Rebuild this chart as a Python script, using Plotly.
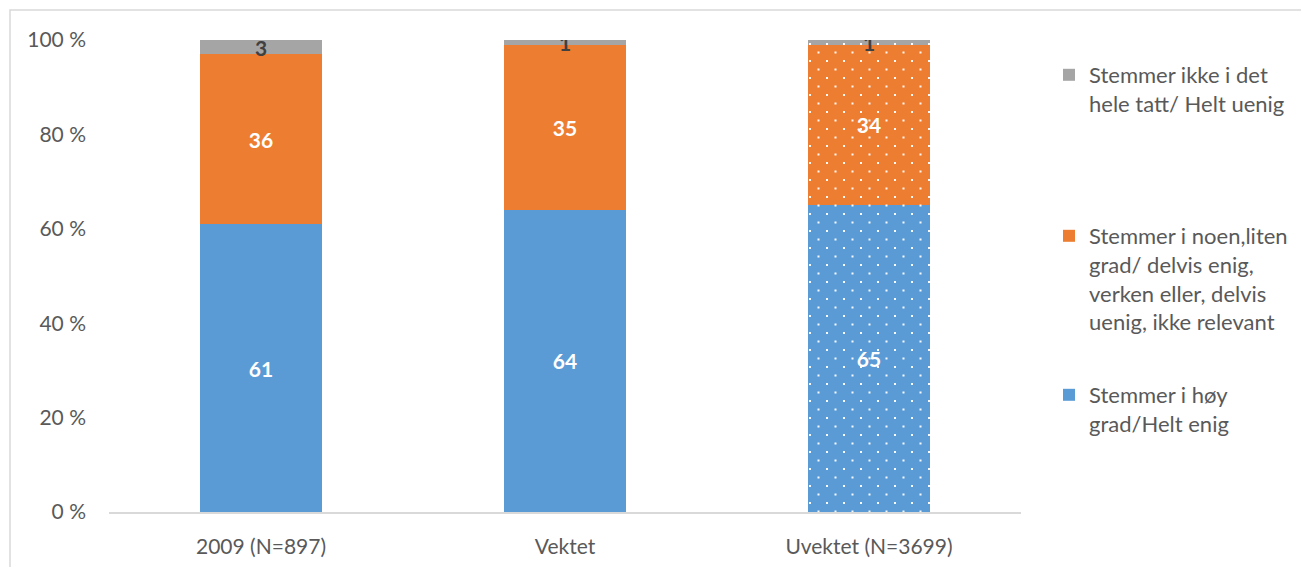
import plotly.graph_objects as go

categories = ["2009 (N=897)", "Vektet", "Uvektet (N=3699)"]
hoy = [61, 64, 65]
noen = [36, 35, 34]
ikke = [3, 1, 1]
tick_vals = [0, 20, 40, 60, 80, 100]
tick_text = ["0 %", "20 %", "40 %", "60 %", "80 %", "100 %"]

names = [
    "Stemmer i høy<br>grad/Helt enig",
    "Stemmer i noen,liten<br>grad/ delvis enig,<br>verken eller, delvis<br>uenig, ikke relevant",
    "Stemmer ikke i det<br>hele tatt/ Helt uenig",
]
colors = ["#5B9BD5", "#ED7D31", "#A5A5A5"]
text_colors = ["white", "white", "#404040"]
series = [hoy, noen, ikke]
legend_ids = ["legend3", "legend2", "legend"]

FONT = "Lato"
OFF = 8  # page body margin
W, H = 1309 - OFF, 567 - OFF
# plot area in page pixels -> figure pixels
L, R, T, B = 109 - OFF, 1021 - OFF, 40 - OFF, 512 - OFF

DOTS = "M3,3h2v2h-2z M11.5,11.5h2v2h-2z"

fig = go.Figure()
for vals, name, col, tcol, lg in zip(series, names, colors, text_colors, legend_ids):
    common = dict(
        textposition="inside",
        insidetextanchor="middle",
        textangle=0,
        constraintext="none",
        textfont=dict(family=FONT, size=21, color=tcol, weight="bold"),
        legend=lg,
        hoverinfo="skip",
    )
    fig.add_trace(go.Bar(
        x=categories[:2], y=vals[:2], name=name,
        marker=dict(color=col, line=dict(width=0)),
        text=[str(v) for v in vals[:2]],
        legendgroup=name,
        **common,
    ))
    fig.add_trace(go.Bar(
        x=categories[2:], y=vals[2:], name=name, showlegend=False,
        marker=dict(
            color=col, line=dict(width=0),
            pattern=dict(path=DOTS, size=17, fgcolor="white", bgcolor=col,
                         fgopacity=0.95, fillmode="overlay"),
        ),
        text=[str(v) for v in vals[2:]],
        legendgroup=name,
        **common,
    ))

PW, PH = R - L, B - T


def px_x(x):
    return (x - L) / PW


def px_y(y):
    return (B - y) / PH


leg_common = dict(
    xref="paper", yref="paper", xanchor="left", yanchor="top",
    font=dict(family=FONT, size=22, color="#595959"),
    itemwidth=30, valign="top", bgcolor="rgba(0,0,0,0)",
)
LX = px_x(1041)
fig.update_layout(
    barmode="stack",
    bargap=0.6,
    width=W, height=H,
    margin=dict(l=L, r=W - R, t=T, b=H - B, pad=0, autoexpand=False),
    paper_bgcolor="white",
    plot_bgcolor="white",
    font=dict(family=FONT, color="#595959", size=21),
    showlegend=True,
    legend=dict(x=LX, y=px_y(46), **leg_common),
    legend2=dict(x=LX, y=px_y(207), **leg_common),
    legend3=dict(x=LX, y=px_y(366), **leg_common),
    xaxis=dict(
        showline=True, linecolor="#D9D9D9", linewidth=1.5,
        showgrid=False, ticks="", ticklabelstandoff=15,
        tickfont=dict(family=FONT, size=21, color="#595959"),
        range=[-0.5, 2.5], automargin=False,
    ),
    yaxis=dict(
        range=[0, 100], tickvals=tick_vals, ticktext=tick_text,
        showgrid=False, showline=False, zeroline=False,
        ticks="", ticklabelstandoff=22, automargin=False,
        tickfont=dict(family=FONT, size=21, color="#595959"),
    ),
    shapes=[dict(
        type="rect", xref="paper", yref="paper",
        x0=px_x(10 - OFF), x1=px_x(W + 5),
        y0=px_y(H + 5), y1=px_y(10 - OFF),
        line=dict(color="#D9D9D9", width=1.5), fillcolor="rgba(0,0,0,0)",
        layer="below",
    )],
)

fig.write_html("out.html")
